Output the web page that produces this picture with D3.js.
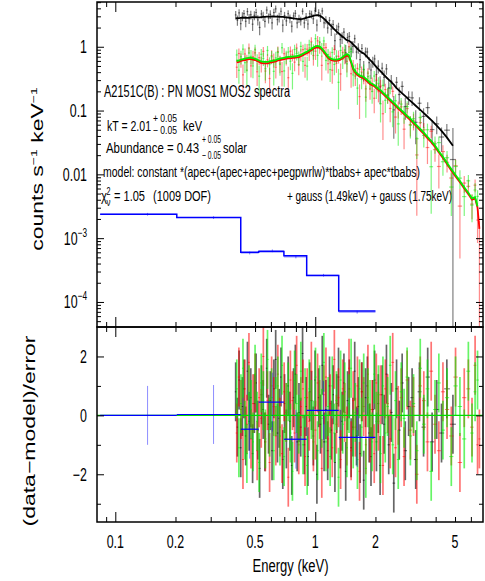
<!DOCTYPE html>
<html>
<head>
<meta charset="utf-8">
<script src="https://cdn.jsdelivr.net/npm/d3@7"></script>
<style>
body { margin: 0; background: #fff; }
text { font-family: "Liberation Sans", Arial, Helvetica, sans-serif; fill: #000; }
</style>
</head>
<body>
<script>

// ---- data ----
// PN (black): bin centres (keV), model (counts/s/keV), residuals (sigma)
var pnE = [0.400,0.408,0.416,0.424,0.432,0.440,0.449,0.458,0.467,0.476,
           0.486,0.496,0.506,0.516,0.527,0.538,0.549,0.560,0.572,0.584,
           0.596,0.608,0.621,0.634,0.647,0.660,0.674,0.688,0.702,0.717,
           0.732,0.747,0.763,0.779,0.795,0.812,0.829,0.846,0.864,0.882,
           0.900,0.919,0.938,0.958,0.978,0.998,1.019,1.040,1.062,1.084,
           1.107,1.130,1.154,1.178,1.203,1.228,1.254,1.280,1.307,1.334,
           1.362,1.391,1.420,1.450,1.480,1.511,1.543,1.575,1.608,1.642,
           1.676,1.711,1.747,1.784,1.822,1.860,1.900,1.940,1.981,2.023,
           2.066,2.110,2.160,2.210,2.270,2.330,2.400,2.470,2.550,2.630,
           2.720,2.820,2.930,3.050,3.180,3.320,3.480,3.650,3.840,4.050,
           4.280,4.550,4.880];
var pnModel = [2.78,2.80,2.82,2.83,2.84,2.86,2.85,2.84,2.86,2.88,
               2.90,2.91,2.90,2.88,2.89,2.92,2.94,2.95,2.96,2.97,
               2.97,2.98,2.98,2.97,2.97,2.96,2.95,2.93,2.91,2.89,
               2.87,2.85,2.82,2.79,2.76,2.73,2.72,2.72,2.74,2.78,
               2.83,2.88,2.94,3.00,3.06,3.11,3.14,3.12,3.03,2.90,
               2.74,2.56,2.40,2.25,2.10,1.96,1.84,1.73,1.63,1.54,
               1.46,1.39,1.30,1.26,1.23,1.18,1.10,1.03,0.96,0.90,
               0.85,0.81,0.79,0.74,0.69,0.64,0.60,0.56,0.52,0.48,
               0.45,0.42,0.39,0.36,0.33,0.305,0.28,0.255,0.225,0.205,
               0.186,0.168,0.150,0.134,0.119,0.105,0.092,0.080,0.069,0.058,
               0.048,0.038,0.028];
var pnResid = [0.8,-0.4,1.2,-1.1,0.3,0.9,-0.7,1.5,-0.2,0.6,
               -1.3,0.4,1.1,-0.5,-1.8,0.7,0.2,-0.9,1.6,-0.3,
               0.5,-1.2,0.9,1.9,-0.6,-0.1,1.3,-1.5,0.4,-0.8,
               1.0,-0.2,-1.7,0.6,1.4,-0.9,0.1,-0.4,2.1,-1.0,
               0.3,-1.4,0.8,0.5,-0.7,1.2,-2.0,0.6,-0.3,1.7,
               -0.9,0.2,-1.2,1.0,-0.5,0.7,-1.6,0.4,1.3,-0.8,
               -0.2,1.1,-1.9,0.5,0.9,-1.1,-0.4,1.5,-0.7,0.3,
               -1.3,0.8,-2.2,0.6,1.0,-0.6,-1.4,0.2,1.2,-0.9,
               0.4,-1.7,0.7,-0.3,1.4,-1.0,0.1,-2.3,0.9,-0.5,
               1.1,-1.2,0.3,0.6,-1.5,0.8,-0.4,1.3,-0.9,0.2,
               -0.6,0.9,-0.3];

// MOS1 (red) and MOS2 (green) share one binning and one model shape
var mosE = [0.405,0.415,0.425,0.435,0.445,0.455,0.466,0.477,0.488,0.500,
            0.512,0.524,0.537,0.550,0.563,0.577,0.591,0.605,0.620,0.635,
            0.650,0.666,0.682,0.699,0.716,0.733,0.751,0.769,0.788,0.807,
            0.827,0.847,0.868,0.889,0.911,0.933,0.956,0.979,1.003,1.027,
            1.052,1.078,1.104,1.131,1.159,1.187,1.216,1.246,1.276,1.307,
            1.339,1.372,1.405,1.440,1.475,1.511,1.548,1.586,1.625,1.665,
            1.705,1.747,1.790,1.834,1.879,1.925,1.972,2.020,2.070,2.120,
            2.180,2.240,2.300,2.370,2.440,2.520,2.600,2.690,2.780,2.880,
            2.990,3.100,3.220,3.350,3.490,3.640,3.800,3.970,4.150,4.350,
            4.560,4.790,5.030,5.290,5.560,5.830,6.080,6.300,6.480,6.620];
var mosModel = [0.57,0.58,0.60,0.61,0.62,0.63,0.64,0.64,0.63,0.62,
                0.60,0.58,0.56,0.55,0.55,0.55,0.56,0.57,0.58,0.59,
                0.61,0.62,0.63,0.64,0.65,0.66,0.66,0.67,0.67,0.68,
                0.69,0.71,0.74,0.77,0.80,0.84,0.88,0.93,0.97,0.98,
                0.96,0.90,0.82,0.74,0.67,0.63,0.61,0.60,0.60,0.61,
                0.63,0.66,0.70,0.73,0.70,0.56,0.44,0.39,0.36,0.34,
                0.33,0.32,0.30,0.28,0.26,0.25,0.24,0.225,0.21,0.20,
                0.182,0.168,0.155,0.142,0.130,0.118,0.107,0.097,0.088,0.079,
                0.071,0.063,0.056,0.049,0.043,0.037,0.032,0.027,0.022,0.018,
                0.0145,0.0115,0.0093,0.0075,0.0060,0.0049,0.0040,0.0042,0.0030,0.0014];
var mos2Const = 1.05;   // cross-normalisation "constant" for MOS2
var mos2Bins = 99;      // MOS2 stops one bin earlier
var mos1Resid = [-0.6,1.3,0.2,-1.5,0.9,-0.3,1.8,-0.8,0.4,1.1,
                 -1.2,0.6,-0.1,2.0,-0.9,0.5,-1.6,1.0,0.3,-0.7,
                 1.4,-0.4,-1.3,0.8,0.1,-2.1,1.2,0.5,-0.6,1.7,
                 -1.0,0.3,0.9,-1.4,0.6,-0.2,1.5,-0.9,-0.5,1.1,
                 0.2,-1.8,0.7,1.3,-0.8,0.4,-1.1,1.9,-0.3,0.6,
                 -1.5,0.9,0.1,-0.7,1.6,-1.2,0.5,-0.4,1.0,-1.9,
                 0.8,0.3,-1.0,1.4,-0.6,0.2,-1.3,1.1,-0.2,0.7,
                 -1.7,0.9,0.4,-0.8,1.8,-1.1,0.0,0.6,-1.4,1.2,
                 -0.5,0.3,-2.0,1.0,0.5,-0.9,1.5,-0.3,-1.2,0.8,
                 0.2,-0.7,1.3,-1.6,0.6,0.9,-0.4,1.7,-1.0,-0.8];
var mos2Resid = [0.9,-1.1,0.4,1.6,-0.5,-1.3,0.7,0.2,-0.9,1.4,
                 -0.2,-1.6,1.1,0.5,-0.8,1.9,-0.4,0.6,-1.2,0.3,
                 1.0,-0.7,1.7,-1.4,0.1,0.8,-0.6,-1.9,1.2,0.4,
                 -0.3,1.5,-1.0,0.6,-1.7,0.9,0.2,-0.5,1.3,-1.2,
                 0.7,-0.1,1.8,-0.9,0.3,-1.4,1.0,-0.6,0.5,-2.1,
                 1.2,-0.3,0.8,-1.1,0.4,1.6,-0.8,0.1,-1.5,0.9,
                 -0.4,1.1,-1.8,0.6,0.2,-0.9,1.4,-0.2,0.7,-1.3,
                 1.0,-0.6,0.3,1.7,-1.0,0.5,-1.5,0.8,-0.1,1.3,
                 -0.7,0.4,-1.2,1.6,-0.3,0.9,-1.9,0.2,1.1,-0.5,
                 0.6,-1.4,1.0,0.3,-0.8,1.5,-0.6,0.8,1.2];

// relative 1-sigma error of a bin, by energy band (band upper edges in keV)
var bandTop = [0.7, 1.2, 2.0, 3.0, 4.0, 4.7, 5.0, 6.55, 7.0];
var pnFrac  = [0.17, 0.15, 0.20, 0.26, 0.30, 0.33, 1.30, 1.30, 1.30];
var mosFrac = [0.27, 0.24, 0.27, 0.30, 0.32, 0.33, 0.34, 0.36, 1.60];

// blue component (apec*tbabs), coarse bins
var bgEdges  = [0.084, 0.203, 0.424, 0.521, 0.697, 0.906, 1.31, 2.0];
var bgCentre = [0.145, 0.31, 0.47, 0.61, 0.80, 1.10, 1.62];
var bgModel  = [2.37e-3, 2.1e-3, 6.0e-4, 6.2e-4, 5.3e-4, 2.6e-4, 7.2e-5];
var bgResid  = [0.0, 0.03, -0.47, 0.45, -0.81, 0.17, -0.75];
var bgFrac   = 0.05;

// axis ticks and labels
var xLabelVals = [0.1, 0.2, 0.5, 1, 2, 5];
var xLabels    = ["0.1", "0.2", "0.5", "1", "2", "5"];
var xDecades   = [0.1, 1];
var yMajor     = [1e-4, 1e-3, 0.01, 0.1, 1];
var yLabels    = [["10", "\u22124"], ["10", "\u22123"], ["0.01"], ["0.1"], ["1"]];
var rMajor     = [-2, 0, 2];
var rMinor     = [-3, -1, 1];
var rLabels    = ["\u22122", "0", "2"];

// ---- layout ----
var W = 485, H = 581;
var left = 97, right = 483, top1 = 2, mid = 327, bot = 522;
var sx = 0.69;   // the original figure is squeezed horizontally

var svg = d3.select("body").append("svg")
    .attr("width", W)
    .attr("height", H);

var x = d3.scaleLog().domain([0.081, 6.9]).range([left, right]);
var y = d3.scaleLog().domain([4.05e-5, 5.03]).range([mid, top1]);
var yr = d3.scaleLinear().domain([-3.62, 3.0]).range([bot, mid]);

var defs = svg.append("defs");
defs.append("clipPath").attr("id", "clipTop").append("rect")
    .attr("x", left).attr("y", top1).attr("width", right - left).attr("height", mid - top1);
defs.append("clipPath").attr("id", "clipBot").append("rect")
    .attr("x", left).attr("y", mid).attr("width", right - left).attr("height", bot - mid);

function fracOf(e, fr) {
    for (var i = 0; i < bandTop.length; i++) if (e < bandTop[i]) return fr[i];
    return fr[fr.length - 1];
}

// turn arrays into bins with edges, data value and error
function makeBins(E, M, R, fr, scale) {
    var n = R.length, out = [];
    for (var i = 0; i < n; i++) {
        var lo = i > 0 ? Math.sqrt(E[i - 1] * E[i]) : E[0] / Math.sqrt(E[1] / E[0]);
        var hi = i < n - 1 ? Math.sqrt(E[i] * E[i + 1]) : E[i] * Math.sqrt(E[i] / E[i - 1]);
        var m = M[i] * scale;
        var err = m * fracOf(E[i], fr);
        out.push({e: E[i], lo: lo, hi: hi, m: m, r: R[i], d: m + R[i] * err, err: err});
    }
    return out;
}

var spectra = [
    {bins: makeBins(pnE, pnModel, pnResid, pnFrac, 1), color: "#000000", op: 0.5},
    {bins: makeBins(mosE, mosModel, mos1Resid, mosFrac, 1), color: "#ff0000", op: 0.45},
    {bins: makeBins(mosE.slice(0, mos2Bins), mosModel.slice(0, mos2Bins), mos2Resid, mosFrac, mos2Const), color: "#00ee00", op: 0.5}
];

var bg = bgModel.map(function(m, i) {
    var err = m * bgFrac;
    return {e: bgCentre[i], lo: bgEdges[i], hi: bgEdges[i + 1], m: m, r: bgResid[i], d: m + bgResid[i] * err, err: err};
});

var yMin = y.domain()[0];
function yv(v) { return y(Math.max(v, yMin * 0.5)); }

var upper = svg.append("g").attr("clip-path", "url(#clipTop)");
var lower = svg.append("g").attr("clip-path", "url(#clipBot)");

// data error bars, upper panel
spectra.forEach(function(s) {
    var g = upper.append("g").attr("stroke", s.color).attr("stroke-opacity", s.op).attr("stroke-width", 1.2);
    g.selectAll("line.v").data(s.bins).enter().append("line")
        .attr("x1", function(d) { return x(d.e); })
        .attr("x2", function(d) { return x(d.e); })
        .attr("y1", function(d) { return yv(d.d - d.err); })
        .attr("y2", function(d) { return yv(d.d + d.err); });
    g.selectAll("line.h").data(s.bins.filter(function(d) { return d.d > 0; })).enter().append("line")
        .attr("x1", function(d) { return x(d.lo); })
        .attr("x2", function(d) { return x(d.hi); })
        .attr("y1", function(d) { return y(d.d); })
        .attr("y2", function(d) { return y(d.d); });
});

// models: line through the bin values
var modelLine = d3.line()
    .x(function(b) { return x(b.e); })
    .y(function(b) { return y(b.m); });

spectra.forEach(function(s) {
    upper.append("path")
        .attr("d", modelLine(s.bins))
        .attr("fill", "none")
        .attr("stroke", s.color)
        .attr("stroke-width", 1.8)
        .attr("stroke-linejoin", "round");
});

// blue component drawn as a histogram
var stepLine = d3.line()
    .x(function(p) { return x(p[0]); })
    .y(function(p) { return y(p[1]); });

function steps(bins) {
    var pts = [];
    bins.forEach(function(b) { pts.push([b.lo, b.m]); pts.push([b.hi, b.m]); });
    return pts;
}

var gb = upper.append("g").attr("stroke", "#0000ff");
gb.selectAll("line.v").data(bg).enter().append("line")
    .attr("x1", function(d) { return x(d.e); })
    .attr("x2", function(d) { return x(d.e); })
    .attr("y1", function(d) { return y(d.d - d.err); })
    .attr("y2", function(d) { return y(d.d + d.err); })
    .attr("stroke-opacity", 0.5);
gb.selectAll("line.h").data(bg).enter().append("line")
    .attr("x1", function(d) { return x(d.lo); })
    .attr("x2", function(d) { return x(d.hi); })
    .attr("y1", function(d) { return y(d.d); })
    .attr("y2", function(d) { return y(d.d); })
    .attr("stroke-opacity", 0.5);
gb.append("path")
    .attr("d", stepLine(steps(bg)))
    .attr("fill", "none")
    .attr("stroke-width", 1.5);

// residuals, lower panel
spectra.forEach(function(s) {
    var g = lower.append("g").attr("stroke", s.color).attr("stroke-opacity", s.op + 0.1).attr("stroke-width", 1.7);
    g.selectAll("line.v").data(s.bins).enter().append("line")
        .attr("x1", function(d) { return x(d.e); })
        .attr("x2", function(d) { return x(d.e); })
        .attr("y1", function(d) { return yr(d.r - 1); })
        .attr("y2", function(d) { return yr(d.r + 1); });
    g.selectAll("line.h").data(s.bins).enter().append("line")
        .attr("x1", function(d) { return x(d.lo); })
        .attr("x2", function(d) { return x(d.hi); })
        .attr("y1", function(d) { return yr(d.r); })
        .attr("y2", function(d) { return yr(d.r); })
        .attr("stroke-width", 1);
});

lower.append("line")
    .attr("x1", left).attr("x2", right)
    .attr("y1", yr(0)).attr("y2", yr(0))
    .attr("stroke", "#00dd00").attr("stroke-width", 1.2);

var gbr = lower.append("g").attr("stroke", "#0000ff");
gbr.selectAll("line.v").data(bg).enter().append("line")
    .attr("x1", function(d) { return x(d.e); })
    .attr("x2", function(d) { return x(d.e); })
    .attr("y1", function(d) { return yr(d.r - 1); })
    .attr("y2", function(d) { return yr(d.r + 1); })
    .attr("stroke-opacity", 0.45);
gbr.selectAll("line.h").data(bg).enter().append("line")
    .attr("x1", function(d) { return x(d.lo); })
    .attr("x2", function(d) { return x(d.hi); })
    .attr("y1", function(d) { return yr(d.r); })
    .attr("y2", function(d) { return yr(d.r); })
    .attr("stroke-width", 1.2);

// ---- axes (inward ticks on all four sides) ----
function noDomain(g) { g.select(".domain").remove(); }

var xMinor = x.ticks().filter(function(v) { return xDecades.indexOf(+v.toPrecision(3)) < 0; });
var yMinor = y.ticks().filter(function(v) { return yMajor.indexOf(+v.toPrecision(3)) < 0; });

function xTicks(yPos, dir) {
    var mk = dir === "up" ? d3.axisBottom : d3.axisTop;
    svg.append("g").attr("transform", "translate(0," + yPos + ")")
        .call(mk(x).tickValues(xDecades).tickSize(-10).tickFormat("")).call(noDomain);
    svg.append("g").attr("transform", "translate(0," + yPos + ")")
        .call(mk(x).tickValues(xMinor).tickSize(-5).tickFormat("")).call(noDomain);
}
xTicks(top1, "down");
xTicks(mid, "up");
xTicks(mid, "down");
xTicks(bot, "up");

function yTicks(scale, major, minor, lenMaj, lenMin) {
    [[d3.axisLeft, left], [d3.axisRight, right]].forEach(function(a) {
        svg.append("g").attr("transform", "translate(" + a[1] + ",0)")
            .call(a[0](scale).tickValues(major).tickSize(-lenMaj).tickFormat("")).call(noDomain);
        svg.append("g").attr("transform", "translate(" + a[1] + ",0)")
            .call(a[0](scale).tickValues(minor).tickSize(-lenMin).tickFormat("")).call(noDomain);
    });
}
yTicks(y, yMajor, yMinor, 7, 4);
yTicks(yr, rMajor, rMinor, 7, 4);

// frames
svg.append("rect").attr("x", left).attr("y", top1).attr("width", right - left).attr("height", mid - top1)
    .attr("fill", "none").attr("stroke", "#000").attr("stroke-width", 1.5);
svg.append("rect").attr("x", left).attr("y", mid).attr("width", right - left).attr("height", bot - mid)
    .attr("fill", "none").attr("stroke", "#000").attr("stroke-width", 1.5);

// ---- tick labels (narrow, like the squeezed original) ----
function squeezed(xp, yp, size, anchor) {
    return svg.append("text")
        .attr("transform", "translate(" + xp + "," + yp + ") scale(" + sx + ",1)")
        .attr("font-size", size)
        .attr("text-anchor", anchor);
}

xLabelVals.forEach(function(v, i) {
    squeezed(x(v), 548, 18, "middle").text(xLabels[i]);
});

yMajor.forEach(function(v, i) {
    var t = squeezed(87, y(v) + 6.5, 18, "end");
    t.append("tspan").text(yLabels[i][0]);
    if (yLabels[i][1]) {
        t.append("tspan").attr("dy", -8).attr("font-size", 12).text(yLabels[i][1]);
    }
});

rMajor.forEach(function(v, i) {
    squeezed(87, yr(v) + 6.5, 18, "end").text(rLabels[i]);
});

// ---- axis titles ----
svg.append("text")
    .attr("x", 290.5).attr("y", 572)
    .attr("font-size", 18).attr("text-anchor", "middle")
    .attr("textLength", 76).attr("lengthAdjust", "spacingAndGlyphs")
    .text("Energy (keV)");

var yt = svg.append("text")
    .attr("transform", "translate(43,169) rotate(-90) scale(1," + sx + ")")
    .attr("font-size", 23).attr("text-anchor", "middle");
yt.append("tspan").text("counts s");
yt.append("tspan").attr("dy", -9).attr("font-size", 14).text("\u22121");
yt.append("tspan").attr("dy", 9).text(" keV");
yt.append("tspan").attr("dy", -9).attr("font-size", 14).text("\u22121");

svg.append("text")
    .attr("transform", "translate(35,431) rotate(-90) scale(1," + sx + ")")
    .attr("font-size", 23).attr("text-anchor", "middle")
    .text("(data\u2212model)/error");

// ---- annotations in the upper panel ----
function note(xp, yp, size, len, str) {
    return svg.append("text")
        .attr("x", xp).attr("y", yp)
        .attr("font-size", size)
        .attr("textLength", len).attr("lengthAdjust", "spacingAndGlyphs")
        .text(str);
}

note(104, 96.5, 16, 186, "A2151C(B) : PN MOS1 MOS2 spectra");

note(107, 130.5, 15, 44, "kT = 2.01");
note(153, 122, 11, 24, "+ 0.05");
note(153, 134, 11, 24, "\u2212 0.05");
note(183, 130.5, 15, 19, "keV");

note(106, 153, 15, 93, "Abundance = 0.43");
note(202, 142.5, 11, 19, "+ 0.05");
note(202, 158.5, 11, 19, "\u2212 0.05");
note(223, 153, 15, 24, "solar");

note(103, 177, 14, 317, "model: constant *(apec+(apec+apec+pegpwrlw)*tbabs+ apec*tbabs)");

note(101, 201, 15, 6, "\u03c7");
note(106.5, 194.5, 10, 4, "2");
note(106.5, 206, 10, 4, "\u03bd");
note(114, 201, 15, 31, "= 1.05");
note(153, 201, 15, 58, "(1009 DOF)");

note(287, 201, 14, 165, "+ gauss (1.49keV) + gauss (1.75keV)");

</script>
</body>
</html>
